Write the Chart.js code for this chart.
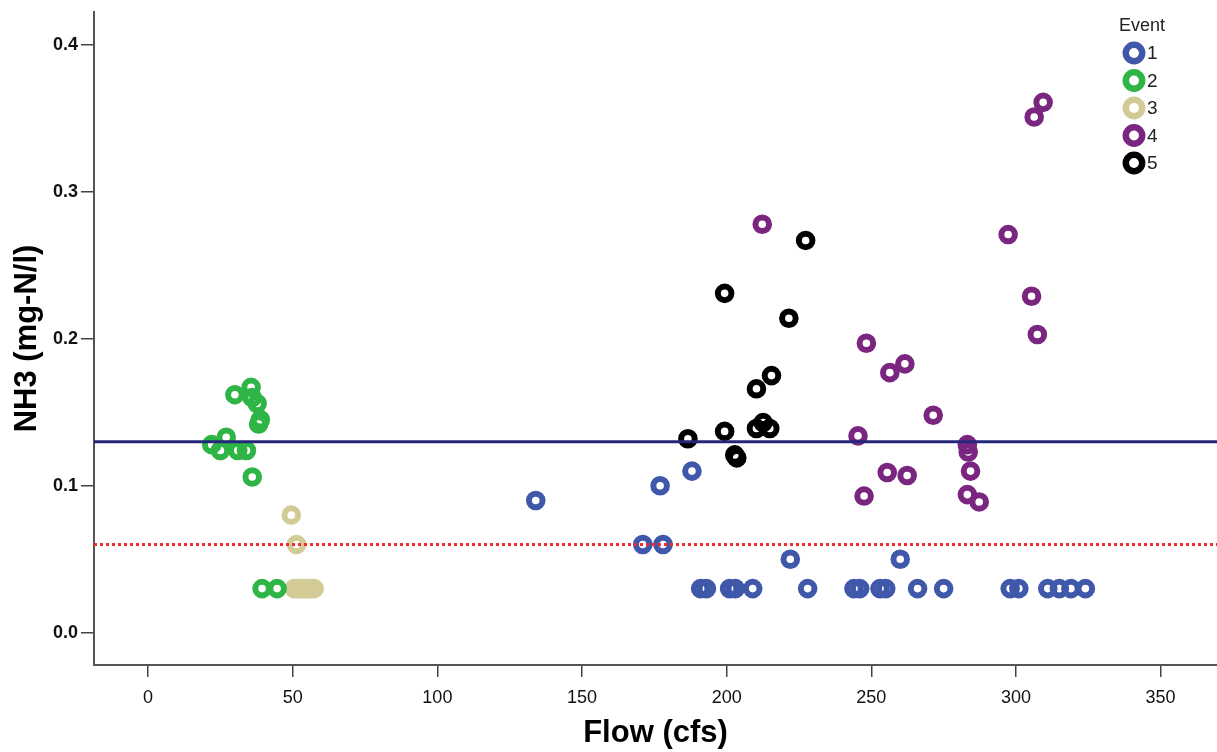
<!DOCTYPE html>
<html>
<head>
<meta charset="utf-8">
<title>NH3 vs Flow</title>
<script src="https://cdn.jsdelivr.net/npm/chart.js@4"></script>
<style>
  html, body { margin: 0; padding: 0; background: #fff; overflow: hidden; }
  #nh3Chart { display: block; }
</style>
</head>
<body>
<canvas id="nh3Chart" width="1217" height="752"></canvas>
<script>
// Samples per event: flow (cfs) and NH3 (mg-N/l)
const eventNames = ["1", "2", "3", "4", "5"];
const eventColors = ["#3F58AA", "#2FB446", "#D3CB96", "#7A2680", "#000000"];

const event1Flow = [134, 171, 178, 177, 188, 191, 193, 201, 203, 209, 222, 228, 244, 246, 253, 255, 260, 266, 275, 298, 301, 311, 315, 319, 324];
const event1NH3  = [0.09, 0.06, 0.06, 0.10, 0.11, 0.03, 0.03, 0.03, 0.03, 0.03, 0.05, 0.03, 0.03, 0.03, 0.03, 0.03, 0.05, 0.03, 0.03, 0.03, 0.03, 0.03, 0.03, 0.03, 0.03];

const event2Flow = [22, 25, 27, 30, 31, 34, 36, 35.6, 36, 37.7, 38.8, 38.2, 39.4, 44.6];
const event2NH3  = [0.128, 0.124, 0.133, 0.162, 0.124, 0.124, 0.106, 0.167, 0.16, 0.156, 0.145, 0.142, 0.03, 0.03];

const event3Flow = [49.5, 51.3, 50.5, 51.5, 52.5, 53.5, 54.5, 55.5, 56.5, 57.4];
const event3NH3  = [0.08, 0.06, 0.03, 0.03, 0.03, 0.03, 0.03, 0.03, 0.03, 0.03];

const event4Flow = [212.3, 297.3, 305.4, 307.4, 248.3, 261.6, 256.4, 271.4, 245.4, 283.2, 283.5, 255.5, 262.4, 284.3, 247.5, 283.2, 287.3, 309.4, 306.3];
const event4NH3  = [0.278, 0.271, 0.229, 0.203, 0.197, 0.183, 0.177, 0.148, 0.134, 0.128, 0.123, 0.109, 0.107, 0.110, 0.093, 0.094, 0.089, 0.361, 0.351];

const event5Flow = [227.3, 199.3, 221.5, 215.5, 210.3, 186.6, 199.3, 210.3, 212.6, 214.9, 202.8, 203.5];
const event5NH3  = [0.267, 0.231, 0.214, 0.175, 0.166, 0.132, 0.137, 0.139, 0.143, 0.139, 0.121, 0.119];

// Reference lines
const meanLine = 0.13;
const limitLine = 0.06;

// Axis ranges and ticks
const xMin = -18.7, xMax = 369.5;
const yMin = -0.022, yMax = 0.4225;
const xTicks = [0, 50, 100, 150, 200, 250, 300, 350];
const yTicks = [0.0, 0.1, 0.2, 0.3, 0.4];

const flows = [event1Flow, event2Flow, event3Flow, event4Flow, event5Flow];
const levels = [event1NH3, event2NH3, event3NH3, event4NH3, event5NH3];

Chart.defaults.font.family = "'Liberation Sans', Arial, sans-serif";
Chart.defaults.color = "#000";

const pointSets = eventNames.map((name, i) => ({
    type: "scatter",
    label: name,
    isEvent: true,
    data: flows[i].map((x, j) => ({ x: x, y: levels[i][j] })),
    borderColor: eventColors[i],
    backgroundColor: "transparent",
    pointRadius: 6.8,
    pointHoverRadius: 6.8,
    borderWidth: 6,
    pointBorderWidth: 6,
}));

const lineSets = [
    {
        type: "line",
        label: "mean",
        data: [{ x: xMin, y: meanLine }, { x: xMax, y: meanLine }],
        borderColor: "#24267A",
        borderWidth: 3,
        pointRadius: 0,
        order: -1,
    },
    {
        type: "line",
        label: "limit",
        data: [{ x: xMin, y: limitLine }, { x: xMax, y: limitLine }],
        borderColor: "#F42A2A",
        borderWidth: 3,
        borderDash: [3, 3],
        pointRadius: 0,
        order: -1,
    },
];

// Legend box in the top right corner of the plot
const eventLegend = {
    id: "eventLegend",
    afterDraw(chart) {
        const ctx = chart.ctx;
        ctx.save();
        ctx.fillStyle = "#222";
        ctx.font = "18px 'Liberation Sans', Arial, sans-serif";
        ctx.textBaseline = "middle";
        ctx.textAlign = "left";
        ctx.fillText("Event", 1119, 26);
        chart.data.datasets.filter(d => d.isEvent).forEach((d, i) => {
            const y = 53 + i * 27.5;
            ctx.beginPath();
            ctx.arc(1134, y, 8.2, 0, Math.PI * 2);
            ctx.lineWidth = 6.5;
            ctx.strokeStyle = d.borderColor;
            ctx.stroke();
            ctx.fillStyle = "#222";
            ctx.font = "19px 'Liberation Sans', Arial, sans-serif";
            ctx.fillText(d.label, 1147, y + 1);
        });
        ctx.restore();
    },
};

new Chart(document.getElementById("nh3Chart"), {
    data: { datasets: [...pointSets, ...lineSets] },
    options: {
        responsive: false,
        animation: false,
        layout: { autoPadding: false, padding: { top: 12, right: 0, left: 0, bottom: 0 } },
        plugins: {
            legend: { display: false },
            tooltip: { enabled: false },
        },
        scales: {
            x: {
                type: "linear",
                min: xMin,
                max: xMax,
                afterBuildTicks: (scale) => { scale.ticks = xTicks.map(v => ({ value: v })); },
                afterFit: (scale) => {
                    scale.height = 87;
                    scale.paddingLeft = 0;
                    scale.paddingRight = 0;
                },
                grid: { display: true, drawOnChartArea: false, drawTicks: true, tickLength: 12, color: "#444", lineWidth: 1.5 },
                border: { display: true, color: "#555", width: 2 },
                ticks: {
                    padding: 10,
                    color: "#111",
                    font: { size: 18 },
                },
                title: {
                    display: true,
                    text: "Flow (cfs)",
                    color: "#000",
                    font: { size: 31, weight: "bold" },
                    padding: { top: 0, bottom: 0 },
                },
            },
            y: {
                type: "linear",
                min: yMin,
                max: yMax,
                afterBuildTicks: (scale) => { scale.ticks = yTicks.map(v => ({ value: v })); },
                afterFit: (scale) => {
                    scale.width = 94;
                    scale.paddingTop = 0;
                    scale.paddingBottom = 0;
                },
                grid: { display: true, drawOnChartArea: false, drawTicks: true, tickLength: 13, color: "#444", lineWidth: 1.5 },
                border: { display: true, color: "#555", width: 2 },
                ticks: {
                    padding: 3,
                    color: "#111",
                    font: { size: 18, weight: "bold" },
                    callback: (v) => v.toFixed(1),
                },
                title: {
                    display: true,
                    text: "NH3 (mg-N/l)",
                    color: "#000",
                    font: { size: 31, weight: "bold" },
                    padding: { top: 9, bottom: 0 },
                },
            },
        },
    },
    plugins: [eventLegend],
});
</script>
</body>
</html>
